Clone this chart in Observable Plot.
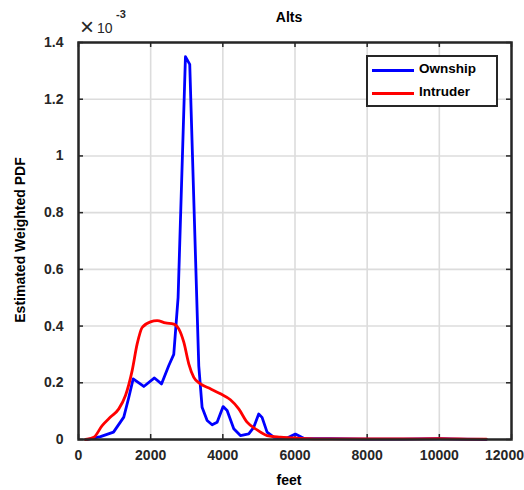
<!DOCTYPE html>
<html>
<head>
<meta charset="utf-8">
<script src="https://cdn.jsdelivr.net/npm/d3@7"></script>
<script src="https://cdn.jsdelivr.net/npm/@observablehq/plot@0.6"></script>
<style>
  body { margin: 0; background: #fff; }
  #wrap { position: relative; width: 524px; height: 490px; overflow: hidden; font-family: "Liberation Sans", Arial, sans-serif; color: #262626; }
  .ov { position: absolute; font-weight: bold; white-space: nowrap; }
  #legend { position: absolute; left: 366px; top: 55px; width: 128px; height: 48px; border: 2px solid #262626; background: #fff; }
  .lrow { position: absolute; left: 4px; height: 20px; }
  .lline { position: absolute; left: 0; top: 9px; width: 42px; height: 3px; }
  .ltext { position: absolute; left: 47px; top: 1px; font-size: 13.5px; font-weight: bold; color: #000; }
</style>
</head>
<body>
<div id="wrap">
  <div id="chart"></div>
  <div class="ov" style="left:0;width:524px;top:9px;text-align:center;font-size:14px;padding-left:54px;box-sizing:border-box;color:#000">Alts</div>
  <div class="ov" style="left:0;width:524px;top:472px;text-align:center;font-size:14px;padding-left:54px;box-sizing:border-box;color:#000">feet</div>
  <div class="ov" style="left:20px;top:240px;font-size:14px;transform:translate(-50%,-50%) rotate(-90deg);color:#000">Estimated Weighted PDF</div>
  <div class="ov" style="left:80px;top:15px;font-size:24px;font-weight:normal;line-height:24px">×</div>
  <div class="ov" style="left:97px;top:20px;font-size:14px;font-weight:normal">10</div>
  <div class="ov" style="left:116px;top:8px;font-size:11px;">-3</div>
  <div id="legend">
    <div class="lrow" style="top:3px"><div class="lline" style="background:#0000ff"></div><div class="ltext">Ownship</div></div>
    <div class="lrow" style="top:26px"><div class="lline" style="background:#ff0000"></div><div class="ltext">Intruder</div></div>
  </div>
</div>
<script>
// values in units of 1e-3
const ownshipX = [240, 610, 970, 1255, 1395, 1515, 1810, 2105, 2300, 2500, 2640, 2760, 2964, 3083, 3333, 3425, 3565, 3703, 3842, 4008, 4119, 4303, 4487, 4718, 4856, 4994, 5087, 5226, 5410, 5780, 6010, 6241, 6500, 7000, 7500, 8000, 9000, 10000, 10500, 11300];
const ownshipY = [0, 0.010, 0.026, 0.079, 0.149, 0.214, 0.187, 0.217, 0.196, 0.260, 0.300, 0.500, 1.350, 1.323, 0.260, 0.114, 0.067, 0.052, 0.061, 0.116, 0.102, 0.038, 0.014, 0.020, 0.043, 0.090, 0.078, 0.026, 0.008, 0.005, 0.019, 0.004, 0.003, 0.003, 0.002, 0.001, 0.001, 0.003, 0.001, 0.000];
const intruderX = [194, 425, 656, 886, 1117, 1302, 1487, 1626, 1764, 1994, 2180, 2410, 2640, 2779, 2918, 3056, 3195, 3380, 3656, 3933, 4210, 4441, 4672, 4950, 5226, 5595, 6150, 6900, 8000, 9000, 10000, 10500, 11300];
const intruderY = [0, 0.008, 0.049, 0.079, 0.108, 0.155, 0.243, 0.337, 0.395, 0.415, 0.419, 0.411, 0.407, 0.390, 0.343, 0.267, 0.219, 0.196, 0.179, 0.161, 0.140, 0.108, 0.061, 0.034, 0.014, 0.008, 0.004, 0.002, 0.002, 0.002, 0.003, 0.002, 0.001];
const xTicks = [0, 2000, 4000, 6000, 8000, 10000, 12000];
const yTicks = [0, 0.2, 0.4, 0.6, 0.8, 1, 1.2, 1.4];

const own = ownshipX.map((x, i) => ({x, y: ownshipY[i]}));
const intr = intruderX.map((x, i) => ({x, y: intruderY[i]}));
const tx = 5 * 12000 / 433, ty = 5 * 1.4 / 397;

const plot = Plot.plot({
  width: 524, height: 490,
  marginLeft: 78, marginRight: 13, marginTop: 42, marginBottom: 51,
  style: {fontFamily: "'Liberation Sans', Arial, sans-serif", fontWeight: "bold", fontSize: "14px", color: "#262626", background: "#fff", overflow: "visible"},
  x: {domain: [0, 12000]},
  y: {domain: [0, 1.4]},
  marks: [
    Plot.gridX(xTicks, {stroke: "#dcdcdc", strokeOpacity: 1, strokeWidth: 1.6}),
    Plot.gridY(yTicks, {stroke: "#dcdcdc", strokeOpacity: 1, strokeWidth: 1.6}),
    Plot.ruleX(xTicks, {y1: 0, y2: ty, stroke: "#262626", strokeWidth: 1.5}),
    Plot.ruleX(xTicks, {y1: 1.4 - ty, y2: 1.4, stroke: "#262626", strokeWidth: 1.5}),
    Plot.ruleY(yTicks, {x1: 0, x2: tx, stroke: "#262626", strokeWidth: 1.5}),
    Plot.ruleY(yTicks, {x1: 12000 - tx, x2: 12000, stroke: "#262626", strokeWidth: 1.5}),
    Plot.line(own, {x: "x", y: "y", stroke: "#0000ff", strokeWidth: 2.8}),
    Plot.line(intr, {x: "x", y: "y", stroke: "#ff0000", strokeWidth: 2.8, curve: "monotone-x"}),
    Plot.axisX(xTicks.slice(0, -1), {tickSize: 0, tickPadding: 11, label: null, fontSize: 14, tickFormat: d => String(d)}),
    Plot.axisX(xTicks.slice(-1), {tickSize: 0, tickPadding: 11, label: null, fontSize: 14, dx: -7, tickFormat: d => String(d)}),
    Plot.axisY(yTicks, {tickSize: 0, tickPadding: 15, label: null, fontSize: 14, tickFormat: d => String(d)}),
    Plot.frame({stroke: "#262626", strokeWidth: 2.5})
  ]
});
document.getElementById("chart").appendChild(plot);
</script>
</body>
</html>
